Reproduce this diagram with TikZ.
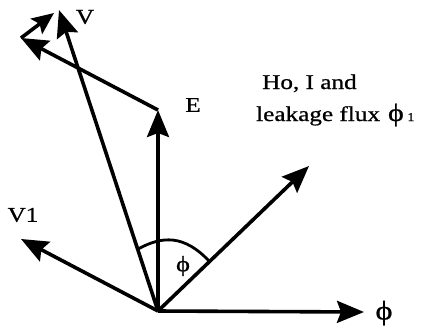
\documentclass[tikz,border=0pt]{standalone}
\usepackage{fontspec}
\setmainfont{Liberation Serif}[FakeStretch=1.2,FakeBold=0.8]
\usetikzlibrary{arrows.meta}
\begin{document}
\begin{tikzpicture}[x=1pt,y=-1pt,
  vec/.style={line width=3.6pt,-{Stealth[length=27pt,width=22pt,inset=4pt]}},
  lbl/.style={font=\fontsize{21}{24}\selectfont,inner sep=0pt}]
\useasboundingbox (0,0) rectangle (430,333);
\coordinate (O) at (158,311);
\coordinate (PhiT) at (364,312);
\coordinate (DT) at (309,166);
\coordinate (ET) at (158,110);
\coordinate (EVT) at (21,38);
\coordinate (VT) at (59,10);
\coordinate (ST) at (54,13);
\coordinate (V1T) at (21,239);
\draw[vec] (O) -- (PhiT);
\draw[vec] (O) -- (DT);
\draw[vec] (O) -- (ET);
\draw[vec] (ET) -- (EVT);
\draw[vec] (O) -- (VT);
\draw[vec,-{Stealth[length=22pt,width=19pt,inset=4pt]}] (EVT) -- (ST);
\draw[vec] (O) -- (V1T);
\draw[line width=2.8pt] (138,249) .. controls (162,236) and (184,234) .. (210,262);
\node[lbl] (lv) at (85,17) {V};
\node[lbl] (le) at (193,105) {E};
\node[lbl] (lv1) at (23,215) {V1};
\node[inner sep=0pt,font=\fontsize{27}{28}\selectfont] (lphi) at (384,313) {ϕ};
\node[inner sep=0pt,font=\fontsize{22}{24}\selectfont] (lang) at (183,266) {ϕ};
\node[lbl,anchor=base west] (t1) at (262,89) {Ho, I and};
\node[lbl,anchor=base west] (t2) at (256,121) {leakage flux\hspace{8pt}{\fontsize{25}{26}\selectfont ϕ}\,{\fontsize{12}{14}\selectfont 1}};
\end{tikzpicture}
\end{document}
